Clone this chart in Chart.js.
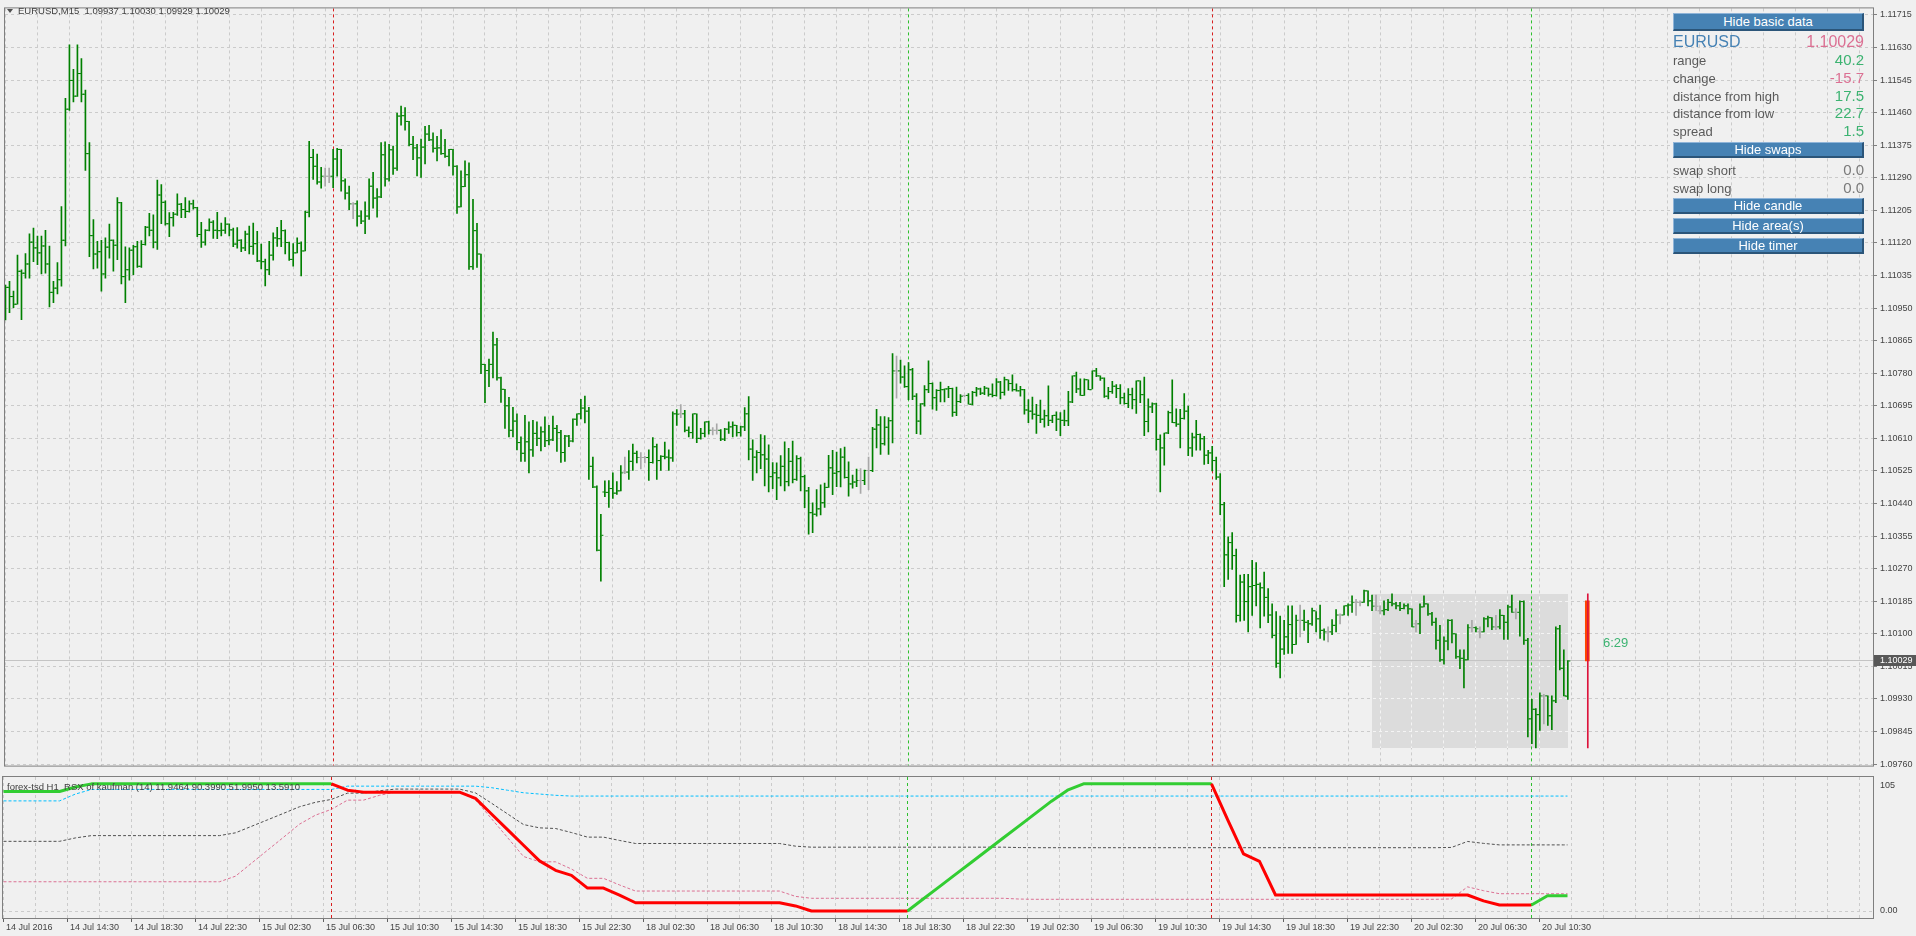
<!DOCTYPE html>
<html>
<head>
<meta charset="utf-8">
<title>EURUSD,M15</title>
<script src="https://cdn.jsdelivr.net/npm/chart.js@4.4.1/dist/chart.umd.min.js"></script>
<style>
  html, body { margin: 0; padding: 0; background: #f0f0f0; overflow: hidden; }
  #wrap { position: relative; width: 1916px; height: 936px; font-family: 'Liberation Sans', Arial, sans-serif; color: #404040; }
  canvas { position: absolute; left: 0; }
  #main { top: 0; }
  #rsx { top: 775px; }
  .lbl { position: absolute; font-size: 9px; line-height: 11px; white-space: pre; color: #404040; }
  .hdr { font-size: 9.5px; }
  .tri { position: absolute; left: 7px; top: 9px; width: 0; height: 0; border-left: 3px solid transparent; border-right: 3px solid transparent; border-top: 4px solid #505050; }
  .btn { position: absolute; left: 1673px; width: 191px; height: 16px; box-sizing: border-box; background: #4682b4; color: #fff; font-size: 13px; line-height: 13px; text-align: center; border-top: 1px solid #8fb4d8; border-left: 1px solid #8fb4d8; border-bottom: 2px solid #2b5579; border-right: 2px solid #2b5579; }
  .row { position: absolute; left: 1673px; width: 191px; height: 17px; display: flex; justify-content: space-between; align-items: baseline; line-height: 17px; }
  .row .k { font-size: 13px; color: #5a5a5a; }
  .row .v { font-size: 15px; }
  .green { color: #3cb371; }
  .pink { color: #db7093; }
  .grey { color: #7a7a7a; }
</style>
</head>
<body>
<div id="wrap">
  <canvas id="main" width="1916" height="774"></canvas>
  <canvas id="rsx" width="1916" height="161"></canvas>

  <div class="tri"></div>
  <div class="lbl hdr" style="left:18px;top:5px;">EURUSD,M15  1.09937 1.10030 1.09929 1.10029</div>
  <div class="lbl hdr" style="left:7px;top:781px;">forex-tsd H1  RSX of kaufman (14) 11.9464 90.3990 51.9950 13.5910</div>
  <div class="lbl" style="left:1880px;top:780px;">105</div>
  <div class="lbl" style="left:1880px;top:905px;">0.00</div>
  <div class="lbl" style="left:1603px;top:634px;font-size:13px;line-height:17px;color:#3cb371;">6:29</div>

  <div class="btn" style="top:13px;height:18px;line-height:15px;">Hide basic data</div>
  <div class="row" style="top:33px;"><span class="k" style="font-size:16px;color:#4682b4;">EURUSD</span><span class="v pink" style="font-size:16px;">1.10029</span></div>
  <div class="row" style="top:51px;"><span class="k">range</span><span class="v green">40.2</span></div>
  <div class="row" style="top:69px;"><span class="k">change</span><span class="v pink">-15.7</span></div>
  <div class="row" style="top:87px;"><span class="k">distance from high</span><span class="v green">17.5</span></div>
  <div class="row" style="top:104px;"><span class="k">distance from low</span><span class="v green">22.7</span></div>
  <div class="row" style="top:122px;"><span class="k">spread</span><span class="v green">1.5</span></div>
  <div class="btn" style="top:142px;">Hide swaps</div>
  <div class="row" style="top:161px;"><span class="k">swap short</span><span class="v grey">0.0</span></div>
  <div class="row" style="top:179px;"><span class="k">swap long</span><span class="v grey">0.0</span></div>
  <div class="btn" style="top:198px;">Hide candle</div>
  <div class="btn" style="top:218px;">Hide area(s)</div>
  <div class="btn" style="top:238px;">Hide timer</div>
</div>

<script>
'use strict';

// EURUSD M15 bars, first bar 14 Jul 10:30
var barOpen = [
1.10990,1.11004,1.10980,1.10960,1.11046,1.11041,1.11065,1.11122,1.11107,1.11094,
1.11112,1.11065,1.10991,1.11002,1.11024,1.11127,1.11469,1.11544,1.11503,1.11562,
1.11508,1.11353,1.11139,1.11091,1.11097,1.11039,1.11109,1.11127,1.11114,1.11225,
1.11032,1.11050,1.11101,1.11110,1.11059,1.11116,1.11161,1.11153,1.11122,1.11245,
1.11226,1.11170,1.11186,1.11195,1.11221,1.11207,1.11202,1.11222,1.11212,1.11142,
1.11122,1.11153,1.11174,1.11153,1.11152,1.11153,1.11169,1.11154,1.11117,1.11127,
1.11107,1.11143,1.11111,1.11118,1.11073,1.11071,1.11050,1.11088,1.11133,1.11131,
1.11152,1.11121,1.11077,1.11094,1.11119,1.11099,1.11200,1.11343,1.11320,1.11279,
1.11294,1.11294,1.11294,1.11339,1.11364,1.11282,1.11250,1.11222,1.11222,1.11190,
1.11177,1.11190,1.11268,1.11237,1.11240,1.11350,1.11287,1.11363,1.11315,1.11451,
1.11452,1.11437,1.11377,1.11368,1.11342,1.11370,1.11404,1.11389,1.11367,1.11368,
1.11353,1.11346,1.11364,1.11320,1.11214,1.11267,1.11298,1.11058,1.11152,1.11091,
1.10803,1.10787,1.10803,1.10854,1.10768,1.10738,1.10695,1.10631,1.10655,1.10599,
1.10571,1.10601,1.10580,1.10623,1.10610,1.10627,1.10604,1.10606,1.10636,1.10625,
1.10573,1.10616,1.10603,1.10660,1.10674,1.10689,1.10681,1.10537,1.10483,1.10318,
1.10470,1.10469,1.10479,1.10467,1.10473,1.10522,1.10522,1.10550,1.10571,1.10560,
1.10560,1.10560,1.10547,1.10588,1.10552,1.10563,1.10561,1.10559,1.10674,1.10674,
1.10674,1.10631,1.10625,1.10674,1.10610,1.10623,1.10653,1.10631,1.10631,1.10631,
1.10608,1.10634,1.10640,1.10644,1.10625,1.10640,1.10674,1.10582,1.10561,1.10573,
1.10567,1.10556,1.10510,1.10520,1.10507,1.10537,1.10497,1.10550,1.10503,1.10557,
1.10510,1.10473,1.10416,1.10412,1.10426,1.10442,1.10482,1.10533,1.10519,1.10523,
1.10561,1.10508,1.10491,1.10496,1.10500,1.10500,1.10526,1.10526,1.10634,1.10645,
1.10596,1.10639,1.10656,1.10786,1.10786,1.10770,1.10745,1.10789,1.10720,1.10655,
1.10700,1.10737,1.10753,1.10716,1.10735,1.10737,1.10739,1.10740,1.10678,1.10706,
1.10722,1.10722,1.10699,1.10730,1.10739,1.10728,1.10741,1.10725,1.10722,1.10757,
1.10730,1.10763,1.10753,1.10737,1.10734,1.10737,1.10684,1.10681,1.10673,1.10670,
1.10660,1.10669,1.10657,1.10670,1.10660,1.10657,1.10656,1.10705,1.10773,1.10739,
1.10722,1.10763,1.10737,1.10786,1.10773,1.10767,1.10720,1.10732,1.10746,1.10740,
1.10716,1.10701,1.10724,1.10711,1.10760,1.10724,1.10654,1.10692,1.10700,1.10607,
1.10585,1.10624,1.10677,1.10651,1.10647,1.10662,1.10681,1.10585,1.10613,1.10620,
1.10609,1.10566,1.10572,1.10552,1.10509,1.10437,1.10306,1.10338,1.10304,1.10148,
1.10235,1.10184,1.10223,1.10226,1.10229,1.10220,1.10195,1.10149,1.10096,1.10023,
1.10060,1.10092,1.10124,1.10072,1.10135,1.10135,1.10130,1.10126,1.10160,1.10139,
1.10109,1.10105,1.10105,1.10122,1.10149,1.10149,1.10173,1.10175,1.10182,1.10182,
1.10182,1.10212,1.10186,1.10172,1.10160,1.10160,1.10163,1.10182,1.10178,1.10173,
1.10166,1.10173,1.10165,1.10126,1.10126,1.10170,1.10178,1.10152,1.10130,1.10083,
1.10032,1.10081,1.10135,1.10100,1.10040,1.10036,1.10032,1.10116,1.10116,1.10105,
1.10105,1.10139,1.10142,1.10118,1.10118,1.10148,1.10130,1.10170,1.10156,1.10156,
1.10184,1.10083,1.09878,1.09903,1.09889,1.09938,1.09938,1.09886,1.09925,1.10113,
1.10010,1.09937];

var barHigh = [
1.11010,1.11020,1.10994,1.11088,1.11050,1.11092,1.11144,1.11159,1.11138,1.11138,
1.11153,1.11112,1.11020,1.11069,1.11215,1.11497,1.11637,1.11573,1.11637,1.11601,
1.11519,1.11382,1.11181,1.11124,1.11127,1.11133,1.11169,1.11128,1.11238,1.11226,
1.11110,1.11107,1.11114,1.11124,1.11126,1.11163,1.11197,1.11193,1.11284,1.11272,
1.11230,1.11199,1.11200,1.11248,1.11223,1.11238,1.11230,1.11232,1.11213,1.11174,
1.11155,1.11183,1.11178,1.11200,1.11172,1.11186,1.11170,1.11159,1.11160,1.11129,
1.11151,1.11164,1.11172,1.11150,1.11117,1.11078,1.11124,1.11146,1.11161,1.11179,
1.11154,1.11122,1.11118,1.11133,1.11123,1.11203,1.11385,1.11364,1.11352,1.11317,
1.11315,1.11315,1.11364,1.11367,1.11364,1.11287,1.11268,1.11225,1.11230,1.11204,
1.11227,1.11287,1.11304,1.11262,1.11382,1.11384,1.11377,1.11373,1.11459,1.11477,
1.11473,1.11437,1.11398,1.11377,1.11391,1.11424,1.11427,1.11407,1.11398,1.11416,
1.11390,1.11364,1.11364,1.11322,1.11308,1.11334,1.11329,1.11234,1.11171,1.11091,
1.10803,1.10817,1.10887,1.10871,1.10770,1.10738,1.10717,1.10691,1.10674,1.10614,
1.10670,1.10653,1.10657,1.10653,1.10640,1.10666,1.10644,1.10668,1.10644,1.10631,
1.10618,1.10618,1.10661,1.10674,1.10712,1.10720,1.10691,1.10561,1.10486,1.10412,
1.10499,1.10500,1.10520,1.10497,1.10539,1.10561,1.10578,1.10595,1.10577,1.10573,
1.10563,1.10580,1.10612,1.10595,1.10565,1.10600,1.10580,1.10679,1.10685,1.10698,
1.10683,1.10640,1.10674,1.10674,1.10636,1.10653,1.10655,1.10638,1.10648,1.10633,
1.10636,1.10653,1.10653,1.10644,1.10642,1.10690,1.10719,1.10606,1.10578,1.10620,
1.10617,1.10593,1.10547,1.10546,1.10565,1.10601,1.10584,1.10603,1.10565,1.10561,
1.10514,1.10482,1.10442,1.10476,1.10489,1.10493,1.10566,1.10579,1.10574,1.10583,
1.10587,1.10549,1.10514,1.10530,1.10531,1.10527,1.10561,1.10639,1.10686,1.10667,
1.10667,1.10664,1.10831,1.10825,1.10814,1.10799,1.10808,1.10793,1.10727,1.10701,
1.10748,1.10812,1.10755,1.10737,1.10757,1.10739,1.10746,1.10741,1.10744,1.10724,
1.10722,1.10727,1.10733,1.10743,1.10741,1.10746,1.10741,1.10752,1.10766,1.10759,
1.10770,1.10763,1.10776,1.10752,1.10746,1.10738,1.10711,1.10718,1.10699,1.10710,
1.10684,1.10747,1.10670,1.10679,1.10677,1.10684,1.10733,1.10773,1.10783,1.10765,
1.10765,1.10763,1.10786,1.10793,1.10773,1.10768,1.10743,1.10759,1.10750,1.10750,
1.10728,1.10740,1.10741,1.10760,1.10760,1.10770,1.10713,1.10703,1.10702,1.10619,
1.10624,1.10681,1.10763,1.10687,1.10686,1.10727,1.10694,1.10624,1.10657,1.10622,
1.10615,1.10579,1.10589,1.10561,1.10518,1.10443,1.10353,1.10364,1.10321,1.10253,
1.10255,1.10255,1.10292,1.10286,1.10233,1.10261,1.10218,1.10178,1.10158,1.10146,
1.10135,1.10173,1.10173,1.10149,1.10175,1.10162,1.10135,1.10167,1.10158,1.10175,
1.10113,1.10118,1.10137,1.10163,1.10152,1.10173,1.10178,1.10199,1.10190,1.10186,
1.10214,1.10212,1.10201,1.10201,1.10173,1.10186,1.10190,1.10204,1.10182,1.10182,
1.10178,1.10178,1.10165,1.10135,1.10178,1.10199,1.10178,1.10156,1.10141,1.10122,
1.10092,1.10137,1.10137,1.10100,1.10058,1.10058,1.10124,1.10135,1.10118,1.10118,
1.10142,1.10146,1.10142,1.10148,1.10163,1.10148,1.10175,1.10201,1.10166,1.10186,
1.10186,1.10088,1.09929,1.09905,1.09946,1.09942,1.09938,1.09938,1.10118,1.10122,
1.10058,1.10030];

var barLow = [
1.10919,1.10938,1.10951,1.10960,1.10920,1.11028,1.11028,1.11071,1.11063,1.11039,
1.11041,1.10953,1.10964,1.10987,1.11007,1.11112,1.11466,1.11488,1.11502,1.11488,
1.11309,1.11084,1.11052,1.11054,1.10994,1.11028,1.11080,1.11046,1.11076,1.11013,
1.10964,1.11023,1.11037,1.11056,1.11056,1.11114,1.11138,1.11107,1.11103,1.11170,
1.11166,1.11136,1.11164,1.11192,1.11186,1.11186,1.11200,1.11208,1.11136,1.11108,
1.11114,1.11151,1.11132,1.11131,1.11138,1.11145,1.11138,1.11110,1.11106,1.11097,
1.11100,1.11091,1.11090,1.11071,1.11052,1.11008,1.11037,1.11075,1.11111,1.11110,
1.11091,1.11074,1.11059,1.11094,1.11034,1.11099,1.11188,1.11286,1.11273,1.11263,
1.11268,1.11277,1.11264,1.11294,1.11255,1.11234,1.11207,1.11183,1.11164,1.11170,
1.11144,1.11181,1.11211,1.11187,1.11238,1.11268,1.11281,1.11299,1.11309,1.11427,
1.11414,1.11373,1.11337,1.11295,1.11291,1.11326,1.11387,1.11357,1.11334,1.11351,
1.11343,1.11321,1.11297,1.11197,1.11214,1.11267,1.11051,1.11051,1.11056,1.10779,
1.10703,1.10745,1.10768,1.10762,1.10704,1.10636,1.10614,1.10614,1.10580,1.10550,
1.10550,1.10520,1.10563,1.10591,1.10577,1.10588,1.10593,1.10604,1.10576,1.10547,
1.10550,1.10588,1.10601,1.10644,1.10661,1.10650,1.10503,1.10481,1.10316,1.10237,
1.10458,1.10430,1.10453,1.10464,1.10473,1.10518,1.10503,1.10526,1.10546,1.10530,
1.10546,1.10500,1.10545,1.10503,1.10526,1.10556,1.10526,1.10550,1.10644,1.10664,
1.10627,1.10614,1.10610,1.10599,1.10608,1.10614,1.10621,1.10619,1.10621,1.10604,
1.10604,1.10623,1.10614,1.10616,1.10616,1.10630,1.10554,1.10500,1.10520,1.10531,
1.10486,1.10470,1.10479,1.10450,1.10486,1.10473,1.10486,1.10494,1.10500,1.10473,
1.10429,1.10360,1.10364,1.10407,1.10410,1.10430,1.10482,1.10463,1.10484,1.10483,
1.10506,1.10459,1.10480,1.10484,1.10466,1.10489,1.10476,1.10523,1.10585,1.10568,
1.10592,1.10568,1.10598,1.10715,1.10754,1.10743,1.10711,1.10711,1.10622,1.10620,
1.10694,1.10729,1.10686,1.10683,1.10705,1.10705,1.10716,1.10667,1.10669,1.10703,
1.10718,1.10699,1.10697,1.10720,1.10724,1.10724,1.10720,1.10718,1.10720,1.10713,
1.10723,1.10735,1.10733,1.10733,1.10720,1.10673,1.10651,1.10660,1.10623,1.10651,
1.10639,1.10643,1.10651,1.10630,1.10617,1.10643,1.10643,1.10703,1.10729,1.10722,
1.10722,1.10737,1.10739,1.10771,1.10761,1.10717,1.10713,1.10727,1.10716,1.10700,
1.10699,1.10690,1.10687,1.10675,1.10703,1.10617,1.10627,1.10677,1.10579,1.10470,
1.10540,1.10622,1.10651,1.10641,1.10585,1.10660,1.10565,1.10563,1.10579,1.10579,
1.10542,1.10544,1.10525,1.10503,1.10411,1.10223,1.10242,1.10268,1.10130,1.10133,
1.10135,1.10105,1.10148,1.10173,1.10115,1.10146,1.10129,1.10089,1.10012,1.09985,
1.10046,1.10049,1.10049,1.10072,1.10092,1.10109,1.10077,1.10122,1.10105,1.10088,
1.10083,1.10079,1.10098,1.10105,1.10126,1.10149,1.10148,1.10156,1.10148,1.10173,
1.10182,1.10173,1.10160,1.10160,1.10152,1.10149,1.10160,1.10173,1.10165,1.10160,
1.10165,1.10152,1.10118,1.10105,1.10100,1.10170,1.10148,1.10122,1.10060,1.10028,
1.10021,1.10058,1.10076,1.10036,1.10009,1.09959,1.10032,1.10105,1.10105,1.10089,
1.10105,1.10118,1.10111,1.10111,1.10113,1.10085,1.10085,1.10156,1.10139,1.10094,
1.10072,1.09831,1.09813,1.09802,1.09848,1.09865,1.09861,1.09850,1.09920,1.10006,
1.09938,1.09929];

var barClose = [
1.11004,1.10980,1.10960,1.11046,1.11041,1.11065,1.11122,1.11107,1.11094,1.11112,
1.11065,1.10991,1.11002,1.11024,1.11127,1.11469,1.11544,1.11503,1.11562,1.11508,
1.11353,1.11139,1.11091,1.11097,1.11039,1.11109,1.11127,1.11114,1.11225,1.11032,
1.11050,1.11101,1.11110,1.11059,1.11116,1.11161,1.11153,1.11122,1.11245,1.11226,
1.11170,1.11186,1.11195,1.11221,1.11207,1.11202,1.11222,1.11212,1.11142,1.11122,
1.11153,1.11174,1.11153,1.11152,1.11153,1.11169,1.11154,1.11117,1.11127,1.11107,
1.11143,1.11111,1.11118,1.11073,1.11071,1.11050,1.11088,1.11133,1.11131,1.11152,
1.11121,1.11077,1.11094,1.11119,1.11099,1.11200,1.11343,1.11320,1.11279,1.11294,
1.11294,1.11294,1.11339,1.11364,1.11282,1.11250,1.11222,1.11222,1.11190,1.11177,
1.11190,1.11268,1.11237,1.11240,1.11350,1.11287,1.11363,1.11315,1.11451,1.11452,
1.11437,1.11377,1.11368,1.11342,1.11370,1.11404,1.11389,1.11367,1.11368,1.11353,
1.11346,1.11364,1.11320,1.11214,1.11267,1.11298,1.11058,1.11152,1.11091,1.10803,
1.10787,1.10803,1.10854,1.10768,1.10738,1.10695,1.10631,1.10655,1.10599,1.10571,
1.10601,1.10580,1.10623,1.10610,1.10627,1.10604,1.10606,1.10636,1.10625,1.10573,
1.10616,1.10603,1.10660,1.10674,1.10689,1.10681,1.10537,1.10483,1.10318,1.10357,
1.10469,1.10479,1.10467,1.10473,1.10520,1.10522,1.10550,1.10571,1.10560,1.10560,
1.10560,1.10547,1.10588,1.10552,1.10563,1.10561,1.10559,1.10674,1.10673,1.10674,
1.10631,1.10625,1.10674,1.10610,1.10623,1.10653,1.10631,1.10631,1.10631,1.10608,
1.10634,1.10640,1.10644,1.10625,1.10640,1.10674,1.10582,1.10561,1.10573,1.10567,
1.10556,1.10510,1.10520,1.10507,1.10537,1.10497,1.10550,1.10503,1.10557,1.10510,
1.10473,1.10416,1.10412,1.10426,1.10442,1.10482,1.10533,1.10519,1.10523,1.10561,
1.10508,1.10491,1.10496,1.10500,1.10500,1.10526,1.10526,1.10634,1.10645,1.10596,
1.10639,1.10656,1.10786,1.10786,1.10770,1.10745,1.10789,1.10720,1.10655,1.10700,
1.10737,1.10753,1.10716,1.10735,1.10737,1.10739,1.10740,1.10678,1.10706,1.10720,
1.10722,1.10699,1.10730,1.10739,1.10728,1.10741,1.10725,1.10722,1.10757,1.10730,
1.10763,1.10753,1.10737,1.10734,1.10737,1.10684,1.10681,1.10673,1.10670,1.10660,
1.10669,1.10657,1.10670,1.10660,1.10657,1.10656,1.10705,1.10773,1.10739,1.10722,
1.10763,1.10737,1.10786,1.10773,1.10767,1.10720,1.10732,1.10746,1.10740,1.10716,
1.10701,1.10724,1.10711,1.10760,1.10724,1.10654,1.10692,1.10700,1.10607,1.10585,
1.10624,1.10677,1.10651,1.10647,1.10662,1.10681,1.10585,1.10613,1.10620,1.10609,
1.10566,1.10572,1.10552,1.10509,1.10437,1.10306,1.10338,1.10304,1.10148,1.10235,
1.10184,1.10223,1.10226,1.10229,1.10220,1.10195,1.10149,1.10096,1.10023,1.10060,
1.10092,1.10124,1.10072,1.10135,1.10135,1.10130,1.10126,1.10160,1.10139,1.10109,
1.10105,1.10105,1.10122,1.10149,1.10149,1.10173,1.10175,1.10182,1.10182,1.10182,
1.10212,1.10186,1.10172,1.10172,1.10160,1.10163,1.10182,1.10178,1.10173,1.10166,
1.10173,1.10165,1.10118,1.10126,1.10170,1.10178,1.10152,1.10130,1.10083,1.10032,
1.10081,1.10135,1.10100,1.10040,1.10036,1.10032,1.10116,1.10116,1.10113,1.10105,
1.10139,1.10142,1.10118,1.10118,1.10148,1.10130,1.10170,1.10156,1.10156,1.10184,
1.10083,1.09878,1.09903,1.09889,1.09938,1.09938,1.09886,1.09925,1.10113,1.10010,
1.09938,1.10029];

// price scale labels
var priceTicks = [1.11715,1.11630,1.11545,1.11460,1.11375,1.11290,1.11205,1.11120,1.11035,1.10950,
  1.10865,1.10780,1.10695,1.10610,1.10525,1.10440,1.10355,1.10270,1.10185,1.10100,1.10015,1.09930,1.09845,1.09760];

// time labels, one every 16 bars
var timeLabels = ['14 Jul 2016','14 Jul 14:30','14 Jul 18:30','14 Jul 22:30','15 Jul 02:30','15 Jul 06:30',
  '15 Jul 10:30','15 Jul 14:30','15 Jul 18:30','15 Jul 22:30','18 Jul 02:30','18 Jul 06:30','18 Jul 10:30',
  '18 Jul 14:30','18 Jul 18:30','18 Jul 22:30','19 Jul 02:30','19 Jul 06:30','19 Jul 10:30','19 Jul 14:30',
  '19 Jul 18:30','19 Jul 22:30','20 Jul 02:30','20 Jul 06:30','20 Jul 10:30'];

// RSX trend change bars and their colours
var signalBars = [82, 226, 302, 382];
var signalColors = ['#d81e1e', '#2ec02e', '#d81e1e', '#2ec02e'];

// today: range box (first/last bar) and the daily candle drawn right of the last bar
var dayRangeBars = [342, 391];
var dayCandleBar = 396;
var dayOHLC = [1.10186, 1.10204, 1.09802, 1.10029];
var lastPrice = 1.10029;

// RSX of kaufman, H1 values (one per hour, placed at the hour's first M15 bar)
var rsxValue = [
94,94,94,94,94,97.5,100,100,100,100,
100,100,100,100,100,100,100,100,100,100,
100,100,95,93.5,93.5,93.5,93.5,93.5,93.5,93.5,
88.6,76.3,64,51.7,39.4,32,28,18,18,12.5,
6.5,6.5,6.5,6.5,6.5,6.5,6.5,6.5,6.5,6.5,
4,0,0,0,0,0,0,0,9.6,19.2,
28.8,38.4,48,57.6,67.2,76.8,86.4,95,100,100,
100,100,100,100,100,100,100,72,45,39,
12.6,12.6,12.6,12.6,12.6,12.6,12.6,12.6,12.6,12.6,
12.6,12.6,12.6,8,4.7,4.7,4.7,12,11.95];
var rsxUp = [
1,1,1,1,1,1,1,1,1,1,
1,1,1,1,1,1,1,1,1,1,
1,0,0,0,0,0,0,0,0,0,
0,0,0,0,0,0,0,0,0,0,
0,0,0,0,0,0,0,0,0,0,
0,0,0,0,0,0,0,1,1,1,
1,1,1,1,1,1,1,1,1,1,
1,1,1,1,1,1,0,0,0,0,
0,0,0,0,0,0,0,0,0,0,
0,0,0,0,0,0,1,1,1];
var upperBand = [
86.6,86.6,86.6,86.6,86.6,92,95.6,95.6,95.6,95.6,
95.6,95.6,95.6,95.6,95.6,95.6,95.6,95.6,95.6,95.6,
95.6,95.6,98.2,98.2,98.2,98.2,98.2,98.2,98.2,98.2,
98.2,97,95,93,92,91,90.4,90.4,90.4,90.4,
90.4,90.4,90.4,90.4,90.4,90.4,90.4,90.4,90.4,90.4,
90.4,90.4,90.4,90.4,90.4,90.4,90.4,90.4,90.4,90.4,
90.4,90.4,90.4,90.4,90.4,90.4,90.4,90.4,90.4,90.4,
90.4,90.4,90.4,90.4,90.4,90.4,90.4,90.4,90.4,90.4,
90.4,90.4,90.4,90.4,90.4,90.4,90.4,90.4,90.4,90.4,
90.4,90.4,90.4,90.4,90.4,90.4,90.4,90.4,90.4];
var midBand = [
54.8,54.8,54.8,54.8,54.8,57.5,59.3,59.3,59.3,59.3,
59.3,59.3,59.3,59.3,59.3,61.5,66.6,71.7,76.8,82,
85.5,87.8,92.7,92.7,94.6,95.9,95.9,95.9,95.9,95.9,
92.9,84.8,76.4,68,65.4,64.9,61.7,58.1,58.1,55.5,
53.1,53.1,53.1,53.1,53.1,53.1,53.1,53.1,53.1,53.1,
51,50.2,50.2,50.2,50.2,50.2,50.2,50.2,50.2,50.2,
50.2,50.2,50.2,50.2,49.9,49.8,49.8,49.8,49.8,49.8,
49.8,49.8,49.8,49.8,49.8,49.8,49.8,49.8,49.8,49.8,
49.8,49.8,49.8,49.8,49.8,49.8,49.8,49.8,49.8,49.8,
49.8,50,54.7,53.2,52,52,52,52,52];
var lowerBand = [
23,23,23,23,23,23,23,23,23,23,
23,23,23,23,23,27.4,37.6,47.8,58,68.3,
75.4,80,87.2,87.2,91,93.5,93.5,93.5,93.5,93.5,
87.5,72.6,57.8,42.9,38.7,38.7,33,25.7,25.7,20.5,
15.7,15.7,15.7,15.7,15.7,15.7,15.7,15.7,15.7,15.7,
11.5,10,10,10,10,10,10,10,10,10,
10,10,10,10,9.4,9.2,9.2,9.2,9.2,9.2,
9.2,9.2,9.2,9.2,9.2,9.2,9.2,9.2,9.2,9.2,
9.2,9.2,9.2,9.2,9.2,9.2,9.2,9.2,9.2,9.2,
9.2,9.5,19,16,13.6,13.6,13.6,13.6,13.6];

var FONT = "'Liberation Sans', Arial, sans-serif";
var gridColor = '#cbcbcb';
var frameColor = '#7f7f7f';
var xMin = -0.125, xMax = 467.375;   // 4 px per bar
var gridBars = [];
for (var g = 0; g <= 464; g += 8) gridBars.push(g);

Chart.defaults.font.family = FONT;

function align(p) { return Math.round(p - 0.5) + 0.5; }

// vertical RSX signal lines and the pane frame, shared by both panes
function drawSignals(chart) {
  var ctx = chart.ctx, a = chart.chartArea, x = chart.scales.x;
  ctx.save();
  ctx.lineWidth = 1;
  ctx.setLineDash([3, 3]);
  signalBars.forEach(function (b, i) {
    var px = align(x.getPixelForValue(b));
    ctx.strokeStyle = signalColors[i];
    ctx.beginPath(); ctx.moveTo(px, a.top); ctx.lineTo(px, a.bottom); ctx.stroke();
  });
  ctx.restore();
}
function drawFrame(chart) {
  var ctx = chart.ctx, a = chart.chartArea;
  ctx.save();
  ctx.strokeStyle = frameColor; ctx.lineWidth = 1;
  ctx.strokeRect(a.left - 0.5, a.top - 0.5, a.right - a.left + 1, a.bottom - a.top + 1);
  ctx.restore();
}

var mainDecor = {
  id: 'mainDecor',
  beforeDatasetsDraw: function (chart) {
    var ctx = chart.ctx, a = chart.chartArea, x = chart.scales.x, y = chart.scales.y;
    // today's range box
    var bx0 = Math.round(x.getPixelForValue(dayRangeBars[0]) - 0.5);
    var bx1 = Math.round(x.getPixelForValue(dayRangeBars[1]) + 0.5);
    var by0 = Math.round(y.getPixelForValue(dayOHLC[1]));
    var by1 = Math.round(y.getPixelForValue(dayOHLC[2]));
    ctx.save();
    ctx.fillStyle = '#dcdcdc';
    ctx.fillRect(bx0, by0, bx1 - bx0, by1 - by0);
    ctx.beginPath(); ctx.rect(bx0, by0, bx1 - bx0, by1 - by0); ctx.clip();
    ctx.strokeStyle = '#f4f4f4'; ctx.lineWidth = 1; ctx.setLineDash([3, 3]);
    x.ticks.forEach(function (t) {
      var px = align(x.getPixelForValue(t.value));
      ctx.beginPath(); ctx.moveTo(px, a.top); ctx.lineTo(px, a.bottom); ctx.stroke();
    });
    y.ticks.forEach(function (t) {
      var py = align(y.getPixelForValue(t.value));
      ctx.beginPath(); ctx.moveTo(a.left, py); ctx.lineTo(a.right, py); ctx.stroke();
    });
    ctx.restore();
    // last price line
    var ly = align(y.getPixelForValue(lastPrice));
    ctx.save();
    ctx.strokeStyle = '#c4c4c4'; ctx.lineWidth = 1;
    ctx.beginPath(); ctx.moveTo(a.left, ly); ctx.lineTo(a.right, ly); ctx.stroke();
    ctx.restore();
    drawSignals(chart);
  },
  afterDraw: function (chart) {
    var ctx = chart.ctx, a = chart.chartArea, y = chart.scales.y;
    drawFrame(chart);
    var ly = Math.round(y.getPixelForValue(lastPrice));
    ctx.save();
    ctx.fillStyle = '#585858';
    ctx.fillRect(a.right + 1, ly - 6, 42, 11);
    ctx.fillStyle = '#ffffff';
    ctx.font = '9px ' + FONT;
    ctx.textBaseline = 'middle';
    ctx.fillText(lastPrice.toFixed(5), a.right + 7, ly);
    ctx.restore();
  }
};

var rsxDecor = {
  id: 'rsxDecor',
  beforeDatasetsDraw: function (chart) { drawSignals(chart); },
  afterDraw: function (chart) { drawFrame(chart); }
};

// bars
var barColor = barClose.map(function (c, i) { return c === barOpen[i] ? '#a8a8a8' : '#008000'; });
var rangeData = barClose.map(function (c, i) { return { x: i, y: [barLow[i], barHigh[i]] }; });
var openData = barOpen.map(function (o, i) { return { x: i - 0.375, y: o }; });
var closeData = barClose.map(function (c, i) { return { x: i + 0.375, y: c }; });

var mainChart = new Chart(document.getElementById('main'), {
  type: 'bar',
  data: {
    datasets: [
      { type: 'bar', data: rangeData, backgroundColor: barColor, barThickness: 1, grouped: false, borderWidth: 0 },
      { type: 'scatter', data: openData, pointStyle: 'line', pointRadius: 1, pointBorderWidth: 1,
        pointBorderColor: barColor, pointBackgroundColor: barColor },
      { type: 'scatter', data: closeData, pointStyle: 'line', pointRadius: 1, pointBorderWidth: 1,
        pointBorderColor: barColor, pointBackgroundColor: barColor },
      { type: 'bar', data: [{ x: dayCandleBar, y: [dayOHLC[2], dayOHLC[1]] }], backgroundColor: '#dc143c',
        barThickness: 1, grouped: false, borderWidth: 0 },
      { type: 'bar', data: [{ x: dayCandleBar - 0.125, y: [dayOHLC[3], dayOHLC[0]] }], backgroundColor: '#ff4500',
        barThickness: 4, grouped: false, borderWidth: 0 }
    ]
  },
  options: {
    responsive: false, animation: false, devicePixelRatio: 1, events: [],
    layout: { padding: { left: 3, top: 3, right: 0, bottom: 2 } },
    plugins: { legend: { display: false }, tooltip: { enabled: false } },
    scales: {
      x: {
        type: 'linear', min: xMin, max: xMax, offset: false,
        afterBuildTicks: function (s) { s.ticks = gridBars.map(function (v) { return { value: v }; }); },
        afterFit: function (s) { s.height = 0; },
        ticks: { display: false },
        grid: { color: gridColor, drawTicks: false, offset: false },
        border: { display: false, dash: [3, 3] }
      },
      y: {
        position: 'right', min: 1.09756, max: 1.11732, beginAtZero: false,
        afterBuildTicks: function (s) { s.ticks = priceTicks.map(function (v) { return { value: v }; }); },
        afterFit: function (s) { s.width = 43; },
        ticks: { autoSkip: false, padding: 3, color: '#444', font: { size: 9 },
                 callback: function (v) { return v.toFixed(5); } },
        grid: { color: gridColor, tickLength: 4, tickColor: '#808080', drawTicks: true },
        border: { display: true, color: frameColor, dash: [3, 3] }
      }
    }
  },
  plugins: [mainDecor]
});

// indicator: one point per hour at its first M15 bar, plus the last bar
function hourStart(k) { return k === 0 ? 0 : 4 * k - 2; }
function hourPoints(vals) {
  var pts = vals.map(function (v, k) { return { x: hourStart(k), y: v }; });
  pts.push({ x: barClose.length - 1, y: vals[vals.length - 1] });
  return pts;
}

var rsxChart = new Chart(document.getElementById('rsx'), {
  type: 'line',
  data: {
    datasets: [
      { data: hourPoints(rsxValue), borderWidth: 3, borderColor: '#32cd32', pointRadius: 0, borderJoinStyle: 'round',
        segment: { borderColor: function (c) { return rsxUp[c.p0DataIndex] ? '#32cd32' : '#ff0000'; } } },
      { data: hourPoints(upperBand), borderWidth: 1, borderColor: '#00bfff', borderDash: [3, 2], pointRadius: 0 },
      { data: hourPoints(midBand), borderWidth: 1, borderColor: '#505050', borderDash: [3, 2], pointRadius: 0 },
      { data: hourPoints(lowerBand), borderWidth: 1, borderColor: '#db7093', borderDash: [3, 2], pointRadius: 0 }
    ]
  },
  options: {
    responsive: false, animation: false, devicePixelRatio: 1, events: [],
    layout: { padding: { left: 3, top: 2, right: 0, bottom: 0 } },
    plugins: { legend: { display: false }, tooltip: { enabled: false } },
    scales: {
      x: {
        type: 'linear', min: xMin, max: xMax, offset: false,
        afterBuildTicks: function (s) { s.ticks = gridBars.map(function (v) { return { value: v }; }); },
        afterFit: function (s) { s.height = 18; },
        ticks: {
          autoSkip: false, maxRotation: 0, minRotation: 0, align: 'start', padding: 0, color: '#444', font: { size: 9 },
          callback: function (v) { return (v % 16 === 0 && timeLabels[v / 16]) ? ' ' + timeLabels[v / 16] : ''; }
        },
        grid: {
          color: gridColor, offset: false, drawTicks: true, tickLength: 4,
          tickColor: function (c) {
            var v = c.tick ? c.tick.value : -1;
            return (v % 16 === 0 && timeLabels[v / 16]) ? '#606060' : 'rgba(0,0,0,0)';
          }
        },
        border: { display: true, color: frameColor, dash: [3, 3] }
      },
      y: {
        position: 'right', min: -5.5, max: 105.4,
        afterBuildTicks: function (s) { s.ticks = [{ value: 0 }]; },
        afterFit: function (s) { s.width = 43; },
        ticks: { display: false },
        grid: { color: gridColor, drawTicks: false },
        border: { display: true, color: frameColor, dash: [3, 3] }
      }
    }
  },
  plugins: [rsxDecor]
});
</script>
</body>
</html>
